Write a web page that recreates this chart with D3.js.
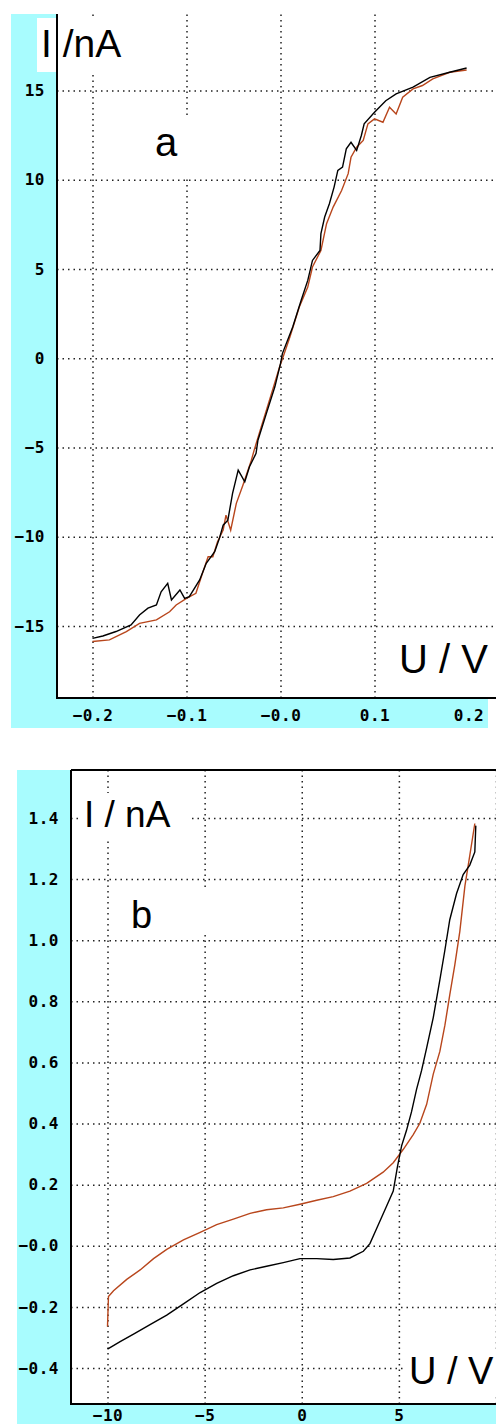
<!DOCTYPE html>
<meta charset="utf-8">
<style>
body { margin: 0; background: #fff; }
.tick text { font: bold 16px "DejaVu Sans Mono", monospace; letter-spacing: 0.5px; fill: #000; }
.grid line { stroke: #222; stroke-width: 1.5; stroke-dasharray: 1.5,4; }
.grid .domain, .lab .domain { display: none; }
.big { font-family: "Liberation Sans", Arial, sans-serif; fill: #000; }
</style>
<body>
<script src="https://d3js.org/d3.v7.min.js"></script>
<script>

// panel a : I (nA) vs U (V)
var aBlackU = [-0.200,-0.189,-0.175,-0.159,-0.150,-0.141,-0.132,-0.127,-0.120,-0.116,-0.107,-0.102,-0.097,-0.086,-0.079,-0.070,-0.065,-0.061,-0.056,-0.051,-0.045,-0.042,-0.038,-0.033,-0.026,-0.024,-0.015,-0.006,0.000,0.002,0.013,0.022,0.029,0.034,0.042,0.043,0.047,0.052,0.057,0.061,0.066,0.070,0.075,0.081,0.086,0.089,0.100,0.112,0.123,0.141,0.159,0.180,0.198];
var aBlackI = [-15.69,-15.56,-15.31,-14.94,-14.38,-14.00,-13.82,-13.08,-12.61,-13.54,-12.98,-13.45,-13.36,-12.42,-11.49,-10.84,-10.09,-9.35,-9.07,-7.57,-6.27,-6.55,-6.92,-6.08,-5.33,-4.59,-3.09,-1.60,-0.30,0.26,1.75,3.25,4.36,5.48,6.04,6.98,7.91,8.66,9.59,10.52,10.71,11.73,12.10,11.64,12.48,13.13,13.78,14.43,14.81,15.19,15.74,16.02,16.26];
var aRedU = [-0.200,-0.182,-0.164,-0.150,-0.132,-0.118,-0.111,-0.100,-0.090,-0.083,-0.077,-0.072,-0.067,-0.061,-0.058,-0.053,-0.047,-0.040,-0.031,-0.028,-0.021,-0.015,-0.008,-0.001,0.001,0.010,0.020,0.029,0.034,0.043,0.049,0.056,0.065,0.072,0.075,0.081,0.088,0.093,0.100,0.109,0.116,0.123,0.130,0.141,0.151,0.162,0.180,0.198];
var aRedI = [-15.87,-15.78,-15.31,-14.85,-14.66,-14.20,-13.82,-13.45,-13.17,-12.05,-11.12,-11.12,-10.28,-9.63,-8.79,-9.63,-8.13,-7.11,-5.71,-5.15,-3.93,-2.91,-1.70,-0.49,-0.20,1.19,2.87,3.99,5.11,6.04,7.54,8.47,9.40,10.34,11.26,11.82,12.20,13.13,13.41,13.22,14.06,13.69,14.62,15.09,15.28,15.65,16.02,16.15];

var aUTicks = [-0.2, -0.1, 0, 0.1, 0.2];
var aULabels = ["\u22120.2", "\u22120.1", "\u22120.0", "0.1", "0.2"];
var aITicks = [15, 10, 5, 0, -5, -10, -15];
var aILabels = ["15", "10", "5", "0", "\u22125", "\u221210", "\u221215"];

// panel b
var bBlackU = [-10.00,-9.35,-8.66,-7.81,-6.95,-6.09,-5.23,-4.38,-3.52,-2.66,-1.81,-0.95,-0.09,0.77,1.62,2.48,3.17,3.51,3.85,4.37,4.71,4.93,5.14,5.39,5.65,5.91,6.17,6.43,6.77,7.11,7.37,7.62,7.97,8.31,8.65,8.91,8.96];
var bBlackI = [-0.338,-0.314,-0.289,-0.258,-0.227,-0.190,-0.153,-0.123,-0.098,-0.079,-0.067,-0.055,-0.042,-0.042,-0.045,-0.040,-0.018,0.007,0.056,0.130,0.179,0.260,0.327,0.377,0.438,0.512,0.574,0.648,0.747,0.870,0.968,1.067,1.153,1.215,1.246,1.289,1.375];
var bRedU = [-10.00,-9.95,-9.69,-9.01,-8.32,-7.63,-6.95,-6.09,-5.23,-4.38,-3.52,-2.66,-1.81,-0.95,-0.09,0.77,1.62,2.48,3.34,4.19,4.71,5.22,5.74,6.08,6.43,6.77,7.11,7.37,7.62,7.88,8.14,8.40,8.65,8.91];
var bRedI = [-0.264,-0.166,-0.147,-0.110,-0.079,-0.042,-0.012,0.019,0.044,0.069,0.087,0.106,0.118,0.124,0.136,0.149,0.161,0.179,0.204,0.241,0.272,0.315,0.364,0.401,0.463,0.562,0.636,0.722,0.821,0.919,1.030,1.178,1.277,1.382];

var bUTicks = [-10, -5, 0, 5];
var bULabels = ["\u221210", "\u22125", "0", "5"];
var bITicks = [1.4, 1.2, 1.0, 0.8, 0.6, 0.4, 0.2, 0, -0.2, -0.4];
var bILabels = ["1.4", "1.2", "1.0", "0.8", "0.6", "0.4", "0.2", "\u22120.0", "\u22120.2", "\u22120.4"];

var cyan = "#a8fcfe", red = "#b8461c";

var svg = d3.select("body").append("svg")
    .attr("width", 496)
    .attr("height", 1424);

function panel(p) {
  var g = svg.append("g");
  var x = d3.scaleLinear().domain(p.xd).range(p.xr);
  var y = d3.scaleLinear().domain(p.yd).range(p.yr);

  // cyan frame
  g.append("rect").attr("x", p.cx).attr("y", p.top).attr("width", p.left - p.cx).attr("height", p.cb - p.top).attr("fill", cyan);
  g.append("rect").attr("x", p.cx).attr("y", p.bottom).attr("width", p.cr - p.cx).attr("height", p.cb - p.bottom).attr("fill", cyan);
  g.append("rect").attr("x", p.left).attr("y", p.top).attr("width", 496 - p.left).attr("height", p.bottom - p.top).attr("fill", "#fff");

  // grid
  g.append("g").attr("class", "grid")
      .attr("transform", "translate(0," + p.bottom + ")")
      .call(d3.axisBottom(x).tickValues(p.gridX).tickSize(-(p.bottom - p.top)).tickFormat(""));
  g.append("g").attr("class", "grid")
      .attr("transform", "translate(" + p.left + ",0)")
      .call(d3.axisLeft(y).tickValues(p.yTicks).tickSize(-(496 - p.left)).tickFormat(""));

  // white boxes behind the labels
  p.boxes.forEach(function(b) {
    g.append("rect").attr("x", b[0]).attr("y", b[1]).attr("width", b[2]).attr("height", b[3]).attr("fill", "#fff");
  });

  var line = d3.line().x(function(d) { return x(d[0]); }).y(function(d) { return y(d[1]); });
  g.append("path").datum(d3.zip(p.redU, p.redI)).attr("d", line)
      .attr("fill", "none").attr("stroke", red).attr("stroke-width", 1.4);
  g.append("path").datum(d3.zip(p.blackU, p.blackI)).attr("d", line)
      .attr("fill", "none").attr("stroke", "#000").attr("stroke-width", 1.4);

  // frame lines
  g.append("path").attr("d", "M" + p.left + "," + p.top + "V" + p.bottom + "H496" + (p.frameTop ? "M" + p.left + "," + p.top + "H496" : ""))
      .attr("fill", "none").attr("stroke", "#000").attr("stroke-width", 2);

  // tick labels
  g.append("g").attr("class", "lab")
      .attr("transform", "translate(" + p.left + ",0)")
      .call(d3.axisLeft(y).tickValues(p.yTicks).tickSize(0).tickPadding(12)
        .tickFormat(function(d, i) { return p.yLabels[i]; }));
  g.append("g").attr("class", "lab")
      .attr("transform", "translate(0," + p.bottom + ")")
      .call(d3.axisBottom(x).tickValues(p.xTicks).tickSize(0).tickPadding(p.xPad)
        .tickFormat(function(d, i) { return p.xLabels[i]; }));

  p.texts.forEach(function(t) {
    g.append("text").attr("class", "big").attr("x", t[0]).attr("y", t[1])
        .style("font-size", t[2] + "px").text(t[3]);
  });
}

panel({
  xd: [-0.2, 0.2], xr: [92.5, 468.5],
  yd: [-15, 15], yr: [626, 90.5],
  cx: 11, cr: 488, cb: 728, top: 14, left: 57, bottom: 698, frameTop: false, xPad: 12,
  gridX: [-0.2, -0.1, 0, 0.1],
  xTicks: aUTicks, xLabels: aULabels, yTicks: aITicks, yLabels: aILabels,
  blackU: aBlackU, blackI: aBlackI, redU: aRedU, redI: aRedI,
  boxes: [[37, 18, 90, 54], [140, 115, 58, 62]],
  texts: [[41, 57, 39, "I /nA"], [155, 156, 40, "a"], [399, 673, 40, "U / V"]]
});

panel({
  xd: [-10, 10], xr: [107.5, 496],
  yd: [-0.4, 1.4], yr: [1368, 818],
  cx: 17, cr: 496, cb: 1424, top: 770, left: 71, bottom: 1404, frameTop: true, xPad: 6,
  gridX: [-10, -5, 0, 5, 10],
  xTicks: bUTicks, xLabels: bULabels, yTicks: bITicks, yLabels: bILabels,
  blackU: bBlackU, blackI: bBlackI, redU: bRedU, redI: bRedI,
  boxes: [[80, 793, 108, 45], [115, 888, 95, 47], [404, 1350, 92, 45]],
  texts: [[84, 827, 37, "I / nA"], [131, 928, 38, "b"], [409, 1384, 38, "U / V"]]
});

</script>
